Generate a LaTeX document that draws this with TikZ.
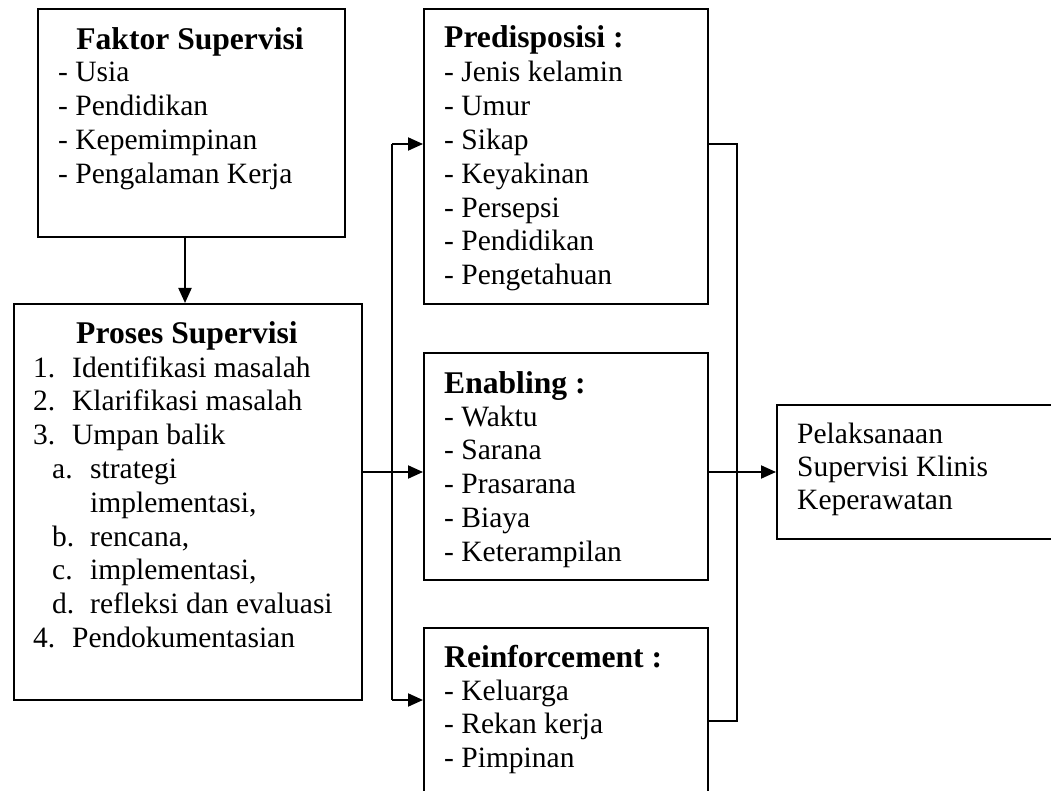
\documentclass[tikz,border=0pt]{standalone}
\usepackage{fontspec}
\setmainfont{Liberation Serif}
\usetikzlibrary{arrows.meta}
\tikzset{
  box/.style={draw, line width=2pt, inner sep=0pt, anchor=north west},
  txt/.style={inner sep=0pt, align=left, anchor=base west, font=\fontsize{29.5pt}{33.8pt}\selectfont},
  head/.style={inner sep=0pt, font=\fontsize{31.6pt}{34pt}\selectfont\bfseries},
  conn/.style={line width=2pt},
  arr/.style={line width=2pt, -{Triangle[length=15pt,width=13pt]}}
}
\begin{document}
\begin{tikzpicture}[x=1pt,y=-1pt]
\useasboundingbox (0,0) rectangle (1051,791);
% boxes
\node[box, minimum width=307pt, minimum height=228pt] (faktor) at (37,8) {};
\node[box, minimum width=348pt, minimum height=396pt] (proses) at (13,303) {};
\node[box, minimum width=284pt, minimum height=295pt] (predis) at (423,8) {};
\node[box, minimum width=284pt, minimum height=227pt] (enabling) at (423,352) {};
\node[box, minimum width=284pt, minimum height=190pt] (reinf) at (423,627) {};
\node[box, minimum width=300pt, minimum height=134pt] (pel) at (776,404) {};
% texts (anchor = baseline of the last line)
\node[head, anchor=base] (fhead) at (190,50) {Faktor Supervisi};
\node[txt] (ftext) at (58,183.4) {- Usia\\- Pendidikan\\- Kepemimpinan\\- Pengalaman Kerja};
\node[head, anchor=base] (phead) at (187,343) {Proses Supervisi};
\node[txt] (ptext) at (33,647.4) {%
\makebox[39pt][l]{1.}Identifikasi masalah\\
\makebox[39pt][l]{2.}Klarifikasi masalah\\
\makebox[39pt][l]{3.}Umpan balik\\
\hspace*{19pt}\makebox[38pt][l]{a.}strategi\\
\hspace*{57pt}implementasi,\\
\hspace*{19pt}\makebox[38pt][l]{b.}rencana,\\
\hspace*{19pt}\makebox[38pt][l]{c.}implementasi,\\
\hspace*{19pt}\makebox[38pt][l]{d.}refleksi dan evaluasi\\
\makebox[39pt][l]{4.}Pendokumentasian};
\node[head, anchor=base west] (prhead) at (444,48) {Predisposisi :};
\node[txt] (prtext) at (444,284.8) {- Jenis kelamin\\- Umur\\- Sikap\\- Keyakinan\\- Persepsi\\- Pendidikan\\- Pengetahuan};
\node[head, anchor=base west] (ehead) at (444,393) {Enabling :};
\node[txt] (etext) at (444,561.2) {- Waktu\\- Sarana\\- Prasarana\\- Biaya\\- Keterampilan};
\node[head, anchor=base west] (rhead) at (444,667) {Reinforcement :};
\node[txt] (rtext) at (444,767.6) {- Keluarga\\- Rekan kerja\\- Pimpinan};
\node[txt, font=\fontsize{29.5pt}{33pt}\selectfont] (peltext) at (797,509) {Pelaksanaan\\Supervisi Klinis\\Keperawatan};
% connectors
\coordinate (blt) at (392,144);
\coordinate (blm) at (392,472);
\coordinate (blb) at (392,700);
\coordinate (brt) at (737,144);
\coordinate (brm) at (737,472);
\coordinate (brb) at (737,721);
\coordinate (fdown) at (185,236);
\draw[arr] (fdown) -- (fdown |- proses.north);
\draw[conn] (blt) -- (blb);
\draw[conn] (proses.east |- blm) -- (blm);
\draw[arr] (blm) -- (enabling.west |- blm);
\draw[arr] (blt) -- (predis.west |- blt);
\draw[arr] (blb) -- (reinf.west |- blb);
\draw[conn] (predis.east |- brt) -- (brt) -- (brb) -- (reinf.east |- brb);
\draw[arr] (enabling.east |- brm) -- (pel.west |- brm);
\end{tikzpicture}
\end{document}
